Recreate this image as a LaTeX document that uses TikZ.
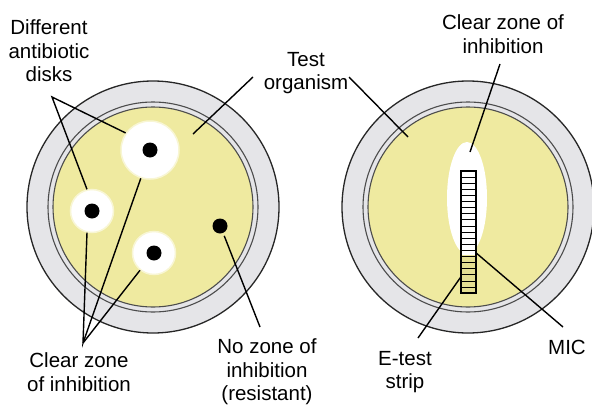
\documentclass[tikz,border=0pt]{standalone}
\usepackage{fontspec}
\setmainfont{Liberation Sans}
\usetikzlibrary{calc}

\definecolor{agar}{RGB}{239,234,160}
\definecolor{rim}{RGB}{229,229,232}
\definecolor{stripfill}{RGB}{228,222,146}

\tikzset{
  labeltext/.style={align=center, font=\fontsize{20.5}{23.5}\selectfont, inner sep=0pt},
  pointer/.style={line width=1.4pt},
  halo/.style={circle, fill=white, draw=white!55!agar, line width=1.5pt, inner sep=0pt, minimum size=#1},
  dot/.style={circle, fill=black, inner sep=0pt, minimum size=15pt},
}

\begin{document}
\begin{tikzpicture}[x=1pt,y=-1pt]
\useasboundingbox (0,0) rectangle (592,407);

% the two plates
\foreach \cx in {153,468} {
  \fill[rim] (\cx,207) circle (126pt);
  \draw[line width=1.3pt, black!85] (\cx,207) circle (126pt);
  \draw[line width=1.1pt, black!70] (\cx,207) circle (105pt);
  \fill[agar] (\cx,207) circle (100pt);
  \draw[line width=1.1pt, black!70] (\cx,207) circle (100pt);
}

% disk diffusion plate
\node[halo=58pt] (bighalo) at (150,150) {};
\node[dot] (bigdot) at (bighalo) {};
\node[halo=43pt] (lefthalo) at (92,211) {};
\node[dot] (leftdot) at (lefthalo) {};
\node[halo=43pt] (lowhalo) at (154,253) {};
\node[dot] (lowdot) at (lowhalo) {};
\node[dot] (resdot) at (220,226) {};

% E-test plate
\fill[white] (467,198) ellipse [x radius=20pt, y radius=56pt];
\node[minimum width=15pt, minimum height=122pt, inner sep=0pt, fill=white] (strip) at (468.5,232) {};
\fill[stripfill] ($(strip.south west)!0.31!(strip.north west)$) rectangle (strip.south east);
\foreach \i in {1,...,19}
  \draw[line width=0.7pt] ($(strip.north west)!\i/20!(strip.south west)$) -- ($(strip.north east)!\i/20!(strip.south east)$);
\draw[line width=1.6pt] (strip.north west) rectangle (strip.south east);

% labels
\node[labeltext] (disklbl) at (49,51) {Different\\antibiotic\\disks};
\node[labeltext] (orglbl) at (306,73) {Test\\organism};
\node[labeltext] (zonetop) at (503,34) {Clear zone of\\inhibition};
\node[labeltext] (zonelbl) at (79,372) {Clear zone\\of inhibition};
\node[labeltext] (reslbl) at (267,372) {No zone of\\inhibition\\(resistant)};
\node[labeltext] (striplbl) at (405,372) {E-test\\strip};
\node[labeltext] (miclbl) at (567,347) {MIC};

% pointers
\coordinate (diskfork) at (52,97);
\coordinate (zonefork) at (83,343);
\draw[pointer] (bighalo.145) -- (diskfork) -- (lefthalo.103);
\draw[pointer] (lefthalo.257) -- (zonefork) -- (bighalo.252);
\draw[pointer] (zonefork) -- (lowhalo.231);
\draw[pointer, shorten <=3pt] (resdot.-66) -- (260,327);
\draw[pointer] (253,77) -- (193,134);
\draw[pointer] (349,77) -- (408,137);
\draw[pointer] (500,64) -- (470,152);
\draw[pointer] ([yshift=-21pt]strip.east) -- (563,327);
\draw[pointer] ([yshift=-45pt]strip.west) -- (418,338);
\end{tikzpicture}
\end{document}
